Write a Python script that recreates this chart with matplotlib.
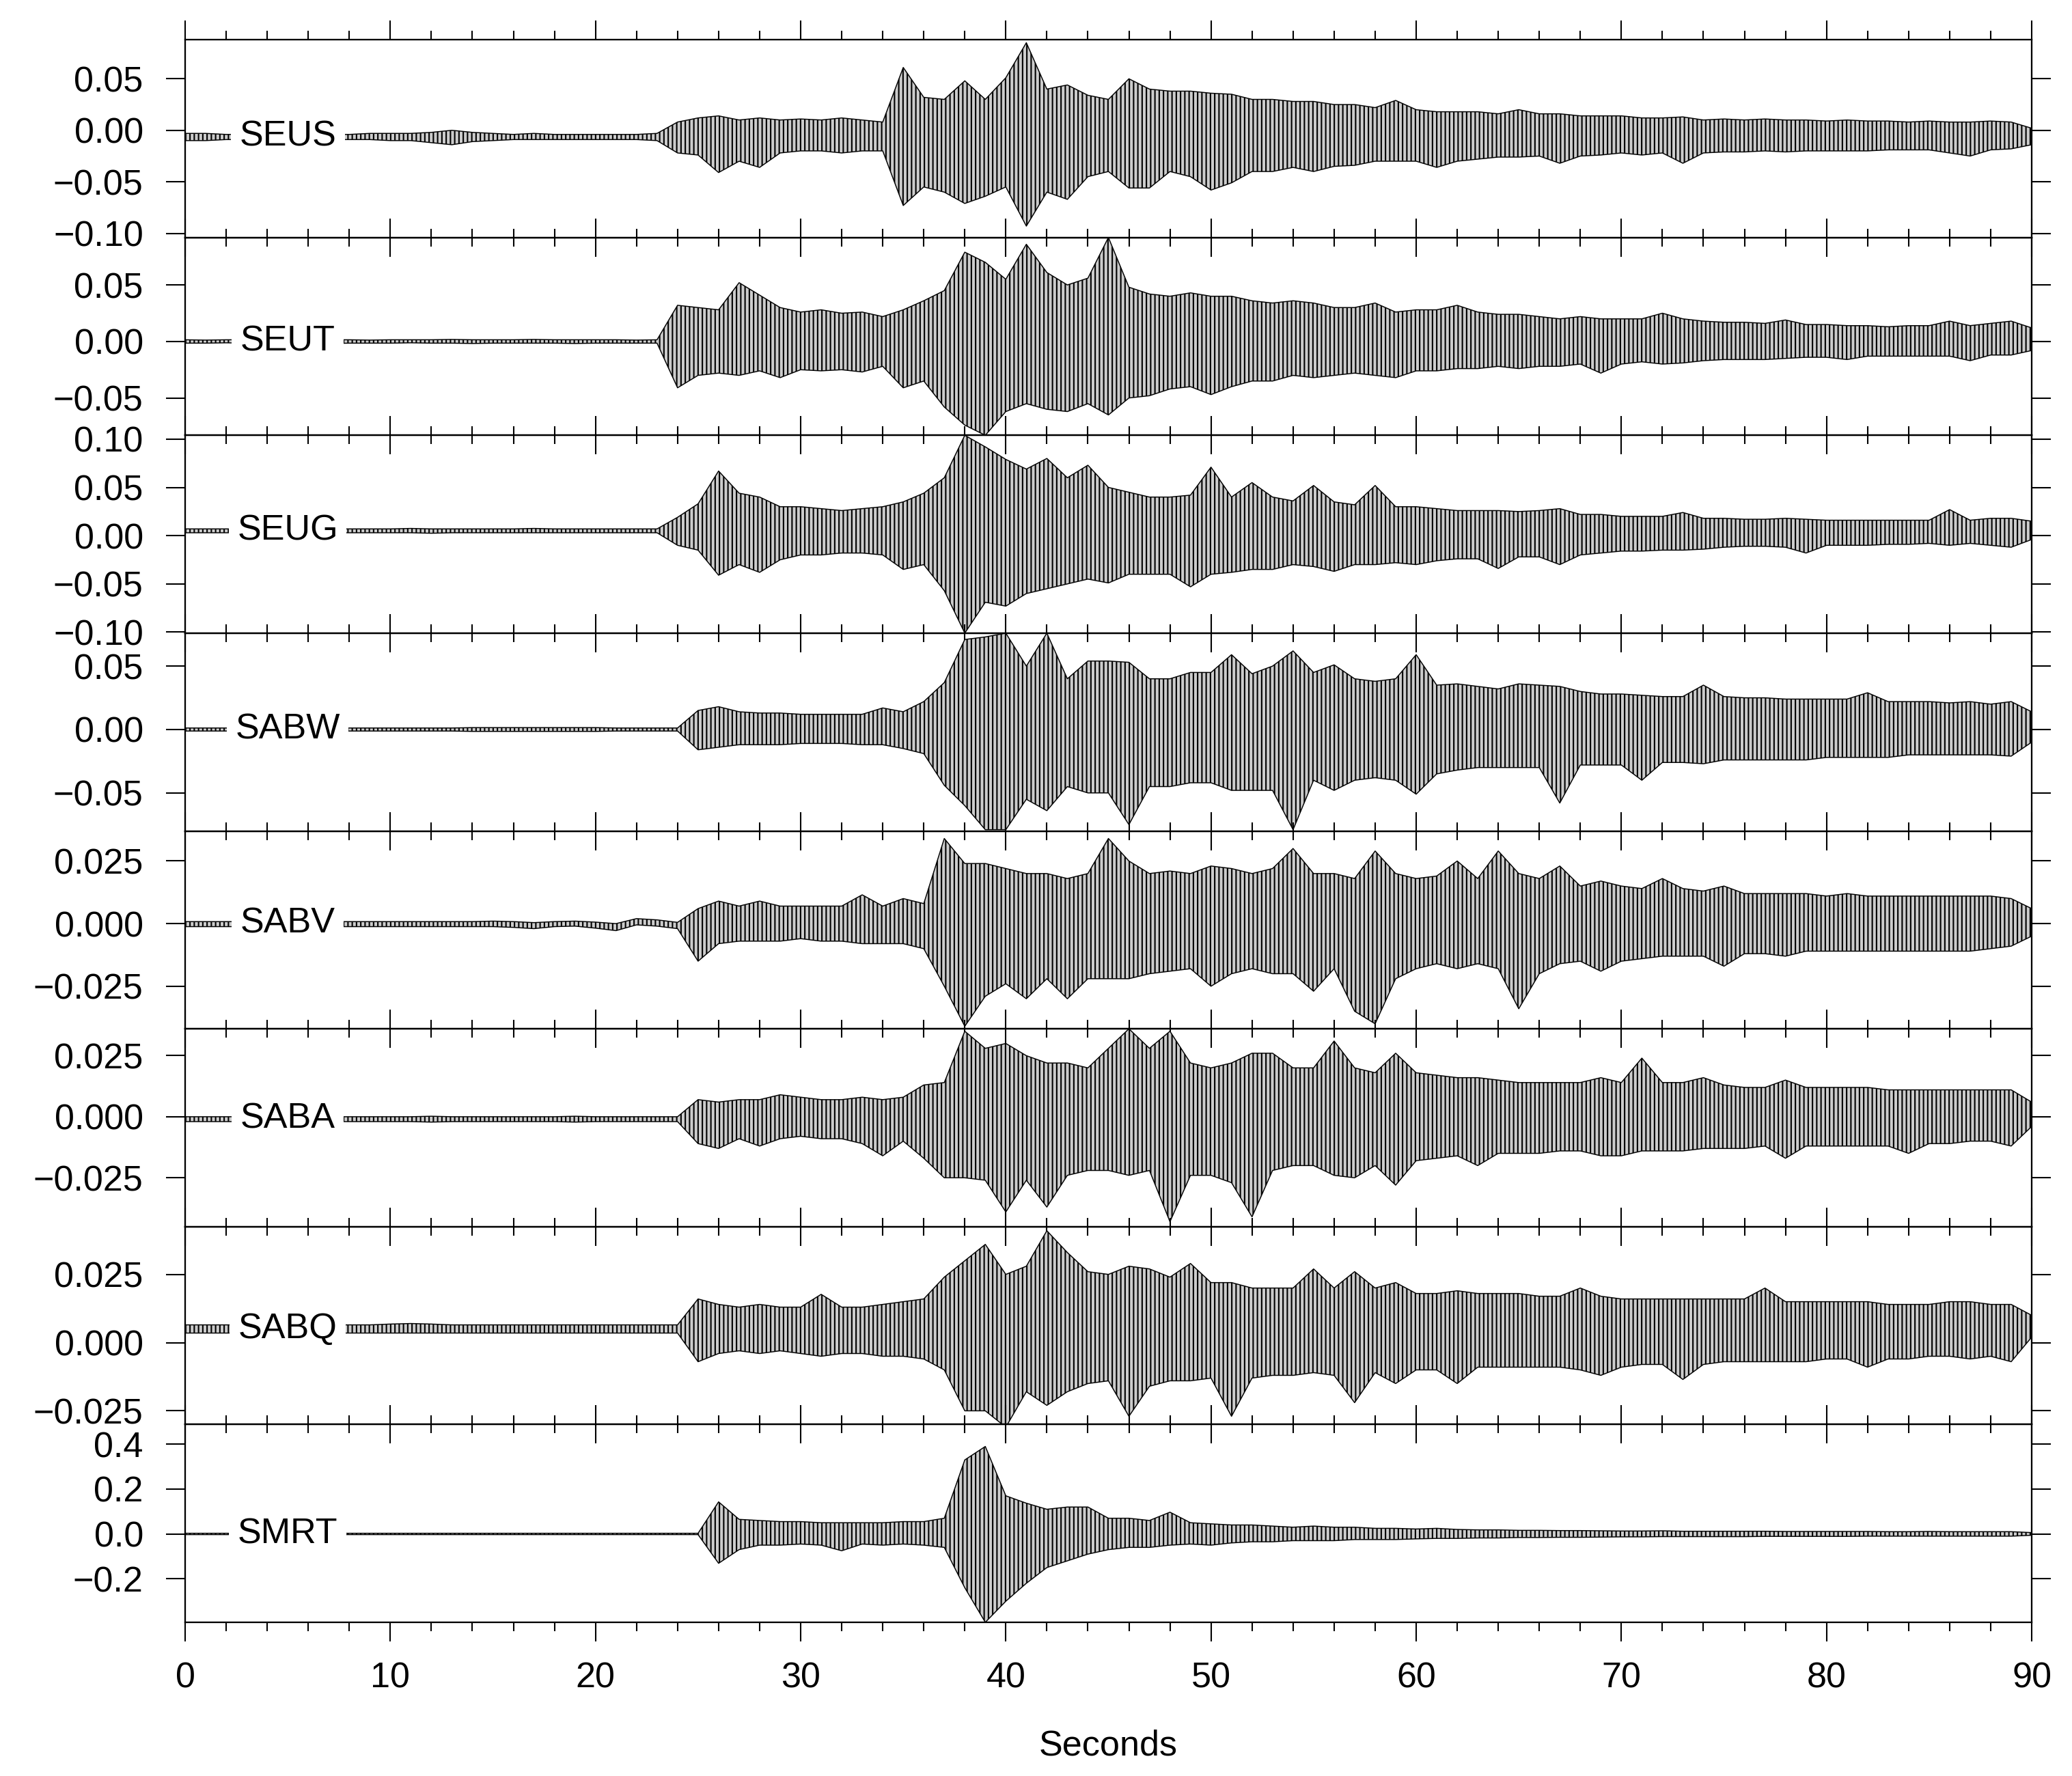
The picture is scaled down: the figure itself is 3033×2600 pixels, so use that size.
import numpy as np
import matplotlib.pyplot as plt
from matplotlib.ticker import MultipleLocator

plt.rcParams['font.family'] = ['Liberation Sans', 'DejaVu Sans']
plt.rcParams['hatch.linewidth'] = 0.5

# one value per second, 0..90 s: max and min of each trace inside that second
seconds = np.arange(0, 91)

stations = ["SEUS", "SEUT", "SEUG", "SABW", "SABV", "SABA", "SABQ", "SMRT"]
label_level = [-0.006, 0.0, 0.005, 0.0, 0.0, -0.001, 0.005, 0.0]

seus_hi = [-0.003, -0.003, -0.004, -0.004, -0.004, -0.004, -0.004, -0.004, -0.004, -0.003,
           -0.003, -0.003, -0.002, 0.000, -0.002, -0.003, -0.004, -0.003, -0.004, -0.004,
           -0.004, -0.004, -0.004, -0.003,
           0.008, 0.012, 0.014, 0.010, 0.012, 0.010, 0.011, 0.010, 0.012, 0.010, 0.008,
           0.061, 0.032, 0.030, 0.048, 0.030, 0.051, 0.085, 0.040, 0.044, 0.034, 0.030,
           0.050, 0.040, 0.038, 0.038, 0.036, 0.035, 0.030, 0.030, 0.028, 0.028, 0.025,
           0.025, 0.022, 0.029, 0.020, 0.018, 0.018, 0.018, 0.016, 0.020, 0.016, 0.016,
           0.014, 0.014, 0.014, 0.012, 0.012, 0.013, 0.010, 0.011, 0.010, 0.011, 0.010,
           0.010, 0.009, 0.010, 0.009, 0.009, 0.008, 0.009, 0.008, 0.008, 0.009, 0.008, 0.002]
seus_lo = [-0.010, -0.010, -0.009, -0.009, -0.009, -0.009, -0.009, -0.009, -0.009, -0.009,
           -0.010, -0.010, -0.012, -0.014, -0.011, -0.010, -0.009, -0.009, -0.009, -0.009,
           -0.009, -0.009, -0.009, -0.010,
           -0.022, -0.024, -0.041, -0.030, -0.036, -0.022, -0.020, -0.020, -0.022, -0.020, -0.020,
           -0.073, -0.055, -0.060, -0.071, -0.064, -0.055, -0.093, -0.060, -0.067, -0.045, -0.040,
           -0.056, -0.056, -0.040, -0.045, -0.058, -0.051, -0.040, -0.040, -0.036, -0.040, -0.035,
           -0.034, -0.030, -0.030, -0.030, -0.036, -0.030, -0.028, -0.026, -0.026, -0.025, -0.032,
           -0.025, -0.024, -0.022, -0.024, -0.022, -0.032, -0.022, -0.021, -0.021, -0.020, -0.021,
           -0.020, -0.020, -0.020, -0.020, -0.019, -0.019, -0.019, -0.022, -0.025, -0.019, -0.018, -0.014]

seut_hi = [0.0015, 0.0012, 0.0015, 0.0015, 0.0015, 0.0015, 0.0015, 0.0015, 0.0015, 0.0012,
           0.0015, 0.0015, 0.0015, 0.0018, 0.0015, 0.0015, 0.0015, 0.0018, 0.0015, 0.0015,
           0.0015, 0.0015, 0.0012, 0.0015,
           0.032, 0.030, 0.028, 0.052, 0.041, 0.030, 0.026, 0.028, 0.025, 0.026, 0.022,
           0.028, 0.036, 0.045, 0.079, 0.070, 0.055, 0.086, 0.061, 0.050, 0.056, 0.092,
           0.048, 0.042, 0.040, 0.043, 0.040, 0.040, 0.036, 0.034, 0.036, 0.034, 0.030,
           0.030, 0.034, 0.026, 0.028, 0.028, 0.032, 0.026, 0.024, 0.024, 0.022, 0.020,
           0.022, 0.020, 0.020, 0.020, 0.025, 0.020, 0.018, 0.017, 0.017, 0.016, 0.019,
           0.015, 0.015, 0.014, 0.014, 0.013, 0.014, 0.014, 0.018, 0.014, 0.016, 0.018, 0.012]
seut_lo = [-0.0015, -0.0015, -0.0012, -0.0015, -0.0015, -0.0015, -0.0015, -0.0018, -0.0015, -0.0015,
           -0.0015, -0.0012, -0.0015, -0.0015, -0.0018, -0.0015, -0.0015, -0.0015, -0.0015, -0.0018,
           -0.0015, -0.0015, -0.0015, -0.0015,
           -0.041, -0.030, -0.028, -0.030, -0.026, -0.032, -0.025, -0.026, -0.025, -0.027, -0.022,
           -0.041, -0.035, -0.058, -0.074, -0.083, -0.062, -0.055, -0.060, -0.062, -0.055, -0.065,
           -0.050, -0.048, -0.042, -0.040, -0.047, -0.040, -0.035, -0.035, -0.030, -0.032, -0.030,
           -0.028, -0.030, -0.032, -0.026, -0.026, -0.024, -0.024, -0.022, -0.024, -0.022, -0.022,
           -0.020, -0.028, -0.020, -0.018, -0.020, -0.019, -0.017, -0.016, -0.016, -0.016, -0.015,
           -0.014, -0.014, -0.016, -0.013, -0.013, -0.013, -0.013, -0.013, -0.017, -0.012, -0.012, -0.008]

seug_hi = [0.007, 0.007, 0.007, 0.007, 0.007, 0.007, 0.007, 0.007, 0.007, 0.007,
           0.007, 0.0075, 0.007, 0.007, 0.007, 0.007, 0.007, 0.0075, 0.007, 0.007,
           0.007, 0.007, 0.007, 0.007,
           0.019, 0.033, 0.067, 0.044, 0.040, 0.030, 0.030, 0.028, 0.026, 0.028, 0.030,
           0.035, 0.044, 0.060, 0.104, 0.092, 0.079, 0.069, 0.080, 0.060, 0.073, 0.050,
           0.045, 0.040, 0.040, 0.042, 0.071, 0.040, 0.055, 0.040, 0.036, 0.052, 0.035,
           0.032, 0.052, 0.030, 0.030, 0.028, 0.026, 0.026, 0.026, 0.025, 0.026, 0.028,
           0.022, 0.022, 0.020, 0.020, 0.020, 0.024, 0.018, 0.018, 0.017, 0.017, 0.018,
           0.017, 0.016, 0.016, 0.016, 0.016, 0.016, 0.016, 0.027, 0.016, 0.018, 0.018, 0.015]
seug_lo = [0.003, 0.003, 0.003, 0.003, 0.003, 0.003, 0.003, 0.003, 0.003, 0.003,
           0.003, 0.003, 0.0025, 0.003, 0.003, 0.003, 0.003, 0.003, 0.003, 0.003,
           0.003, 0.003, 0.003, 0.003,
           -0.010, -0.015, -0.041, -0.030, -0.038, -0.025, -0.020, -0.020, -0.018, -0.018, -0.020,
           -0.035, -0.030, -0.057, -0.101, -0.069, -0.073, -0.060, -0.055, -0.050, -0.045, -0.049,
           -0.040, -0.040, -0.040, -0.053, -0.040, -0.038, -0.035, -0.035, -0.030, -0.032, -0.037,
           -0.030, -0.030, -0.028, -0.030, -0.026, -0.024, -0.024, -0.034, -0.022, -0.022, -0.030,
           -0.020, -0.018, -0.016, -0.016, -0.015, -0.015, -0.014, -0.012, -0.011, -0.011, -0.012,
           -0.018, -0.010, -0.010, -0.010, -0.009, -0.009, -0.008, -0.010, -0.008, -0.010, -0.012, -0.004]

sabw_hi = [0.0012, 0.0012, 0.0012, 0.0012, 0.0012, 0.0012, 0.0012, 0.0012, 0.0012, 0.0012,
           0.0012, 0.0012, 0.0012, 0.0012, 0.0015, 0.0015, 0.0015, 0.0015, 0.0015, 0.0015,
           0.0015, 0.0012, 0.0012, 0.0012, 0.0012,
           0.015, 0.018, 0.014, 0.013, 0.013, 0.012, 0.012, 0.012, 0.012, 0.017,
           0.014, 0.022, 0.037, 0.071, 0.073, 0.076, 0.050, 0.076, 0.040, 0.054, 0.054,
           0.053, 0.040, 0.040, 0.045, 0.045, 0.059, 0.044, 0.050, 0.062, 0.045, 0.051,
           0.040, 0.038, 0.040, 0.059, 0.035, 0.036, 0.034, 0.032, 0.036, 0.035, 0.034,
           0.030, 0.028, 0.028, 0.027, 0.026, 0.026, 0.035, 0.026, 0.025, 0.025, 0.024,
           0.024, 0.024, 0.024, 0.029, 0.022, 0.022, 0.022, 0.021, 0.022, 0.020, 0.022, 0.014]
sabw_lo = [-0.0012, -0.0012, -0.0012, -0.0012, -0.0012, -0.0012, -0.0012, -0.0012, -0.0012, -0.0012,
           -0.0012, -0.0012, -0.0012, -0.0012, -0.0015, -0.0015, -0.0015, -0.0015, -0.0015, -0.0015,
           -0.0015, -0.0012, -0.0012, -0.0012, -0.0012,
           -0.016, -0.014, -0.012, -0.012, -0.012, -0.011, -0.011, -0.011, -0.012, -0.012,
           -0.015, -0.019, -0.044, -0.060, -0.079, -0.079, -0.055, -0.064, -0.045, -0.050, -0.050,
           -0.075, -0.045, -0.045, -0.042, -0.042, -0.048, -0.048, -0.048, -0.079, -0.040, -0.048,
           -0.040, -0.038, -0.040, -0.051, -0.035, -0.032, -0.030, -0.030, -0.030, -0.030, -0.058,
           -0.028, -0.028, -0.028, -0.040, -0.026, -0.026, -0.027, -0.024, -0.024, -0.024, -0.024,
           -0.024, -0.022, -0.022, -0.022, -0.022, -0.020, -0.020, -0.020, -0.020, -0.020, -0.021, -0.010]

sabv_hi = [0.0008, 0.0008, 0.0008, 0.0008, 0.0008, 0.0008, 0.0008, 0.0008, 0.0008, 0.0008,
           0.0008, 0.0008, 0.0008, 0.0008, 0.0008, 0.0010, 0.0008, 0.0004, 0.0008, 0.0010,
           0.0006, 0.0000, 0.0020, 0.0015, 0.0005,
           0.006, 0.009, 0.007, 0.009, 0.007, 0.007, 0.007, 0.007, 0.0115, 0.007,
           0.010, 0.008, 0.034, 0.024, 0.024, 0.022, 0.020, 0.020, 0.018, 0.020, 0.034,
           0.025, 0.020, 0.021, 0.020, 0.023, 0.022, 0.020, 0.022, 0.030, 0.020, 0.020,
           0.018, 0.029, 0.020, 0.018, 0.019, 0.025, 0.018, 0.029, 0.020, 0.018, 0.023,
           0.015, 0.017, 0.015, 0.014, 0.018, 0.014, 0.013, 0.015, 0.012, 0.012, 0.012,
           0.012, 0.011, 0.012, 0.011, 0.011, 0.011, 0.011, 0.011, 0.011, 0.011, 0.010, 0.006]
sabv_lo = [-0.0012, -0.0012, -0.0012, -0.0012, -0.0012, -0.0012, -0.0012, -0.0012, -0.0012, -0.0012,
           -0.0012, -0.0012, -0.0012, -0.0012, -0.0012, -0.0012, -0.0015, -0.0020, -0.0012, -0.0010,
           -0.0018, -0.0028, -0.0005, -0.0010, -0.0020,
           -0.015, -0.008, -0.007, -0.007, -0.007, -0.006, -0.007, -0.007, -0.008, -0.008,
           -0.008, -0.010, -0.025, -0.041, -0.029, -0.024, -0.030, -0.022, -0.030, -0.022, -0.022,
           -0.022, -0.020, -0.019, -0.018, -0.025, -0.020, -0.018, -0.020, -0.020, -0.027, -0.018,
           -0.035, -0.040, -0.022, -0.018, -0.016, -0.018, -0.016, -0.018, -0.034, -0.020, -0.016,
           -0.015, -0.019, -0.015, -0.014, -0.013, -0.013, -0.013, -0.017, -0.012, -0.012, -0.013,
           -0.011, -0.011, -0.011, -0.011, -0.011, -0.011, -0.011, -0.011, -0.011, -0.010, -0.009, -0.005]

saba_hi = [0.0000, 0.0000, 0.0000, 0.0000, 0.0000, 0.0000, 0.0000, 0.0000, 0.0000, 0.0000,
           0.0000, 0.0000, 0.0002, 0.0000, 0.0000, 0.0000, 0.0000, 0.0000, 0.0000, 0.0002,
           0.0000, 0.0000, 0.0000, 0.0000, 0.0000,
           0.007, 0.006, 0.007, 0.007, 0.009, 0.008, 0.007, 0.007, 0.008, 0.007,
           0.008, 0.013, 0.014, 0.035, 0.028, 0.030, 0.025, 0.022, 0.022, 0.020, 0.028,
           0.036, 0.028, 0.035, 0.022, 0.020, 0.022, 0.026, 0.026, 0.020, 0.020, 0.031,
           0.020, 0.018, 0.026, 0.018, 0.017, 0.016, 0.016, 0.015, 0.014, 0.014, 0.014,
           0.014, 0.016, 0.014, 0.024, 0.014, 0.014, 0.016, 0.013, 0.012, 0.012, 0.015,
           0.012, 0.012, 0.012, 0.012, 0.011, 0.011, 0.011, 0.011, 0.011, 0.011, 0.011, 0.006]
saba_lo = [-0.0020, -0.0020, -0.0020, -0.0020, -0.0020, -0.0020, -0.0020, -0.0020, -0.0020, -0.0020,
           -0.0020, -0.0020, -0.0022, -0.0020, -0.0020, -0.0020, -0.0020, -0.0020, -0.0020, -0.0022,
           -0.0020, -0.0020, -0.0020, -0.0020, -0.0020,
           -0.011, -0.013, -0.009, -0.012, -0.009, -0.008, -0.009, -0.009, -0.011, -0.016,
           -0.010, -0.017, -0.025, -0.025, -0.026, -0.039, -0.026, -0.037, -0.024, -0.022, -0.022,
           -0.024, -0.022, -0.043, -0.024, -0.024, -0.027, -0.041, -0.022, -0.020, -0.020, -0.024,
           -0.025, -0.020, -0.028, -0.018, -0.017, -0.016, -0.020, -0.015, -0.015, -0.015, -0.014,
           -0.014, -0.016, -0.016, -0.014, -0.014, -0.014, -0.013, -0.013, -0.013, -0.012, -0.017,
           -0.012, -0.012, -0.012, -0.012, -0.012, -0.015, -0.011, -0.011, -0.010, -0.010, -0.012, -0.004]

sabq_hi = [0.0065, 0.0065, 0.0065, 0.0065, 0.0065, 0.0065, 0.0065, 0.0065, 0.0065, 0.0065,
           0.0068, 0.0070, 0.0068, 0.0065, 0.0065, 0.0065, 0.0065, 0.0065, 0.0065, 0.0065,
           0.0065, 0.0065, 0.0065, 0.0065, 0.0065,
           0.016, 0.014, 0.013, 0.014, 0.013, 0.013, 0.0177, 0.013, 0.013, 0.014,
           0.015, 0.016, 0.024, 0.030, 0.036, 0.025, 0.028, 0.041, 0.033, 0.026, 0.025,
           0.028, 0.027, 0.024, 0.029, 0.022, 0.022, 0.020, 0.020, 0.020, 0.027, 0.020,
           0.026, 0.020, 0.022, 0.018, 0.018, 0.019, 0.018, 0.018, 0.018, 0.017, 0.017,
           0.020, 0.017, 0.016, 0.016, 0.016, 0.016, 0.016, 0.016, 0.016, 0.020, 0.015,
           0.015, 0.015, 0.015, 0.015, 0.014, 0.014, 0.014, 0.015, 0.015, 0.014, 0.014, 0.010]
sabq_lo = [0.0035, 0.0035, 0.0035, 0.0035, 0.0035, 0.0035, 0.0035, 0.0035, 0.0035, 0.0035,
           0.0035, 0.0035, 0.0035, 0.0035, 0.0035, 0.0035, 0.0035, 0.0035, 0.0035, 0.0035,
           0.0035, 0.0035, 0.0035, 0.0035, 0.0035,
           -0.007, -0.004, -0.003, -0.004, -0.003, -0.004, -0.005, -0.004, -0.004, -0.005,
           -0.005, -0.006, -0.010, -0.025, -0.025, -0.031, -0.018, -0.023, -0.018, -0.015, -0.014,
           -0.027, -0.016, -0.014, -0.014, -0.013, -0.027, -0.013, -0.012, -0.012, -0.011, -0.012,
           -0.022, -0.011, -0.015, -0.010, -0.010, -0.015, -0.009, -0.009, -0.009, -0.009, -0.009,
           -0.010, -0.012, -0.009, -0.008, -0.008, -0.0135, -0.008, -0.007, -0.007, -0.007, -0.007,
           -0.007, -0.006, -0.006, -0.009, -0.006, -0.006, -0.005, -0.005, -0.006, -0.005, -0.007, 0.002]

smrt_hi = [0.003, 0.003, 0.003, 0.003, 0.003, 0.003, 0.003, 0.003, 0.003, 0.003,
           0.003, 0.003, 0.003, 0.003, 0.003, 0.003, 0.003, 0.003, 0.003, 0.003,
           0.003, 0.003, 0.003, 0.003, 0.003, 0.003,
           0.143, 0.065, 0.060, 0.055, 0.055, 0.050, 0.050, 0.050, 0.050, 0.055,
           0.055, 0.070, 0.330, 0.390, 0.170, 0.137, 0.110, 0.120, 0.120, 0.070,
           0.070, 0.060, 0.097, 0.050, 0.045, 0.040, 0.040, 0.035, 0.030, 0.035,
           0.030, 0.030, 0.025, 0.025, 0.022, 0.025, 0.020, 0.018, 0.018, 0.016,
           0.016, 0.015, 0.015, 0.014, 0.013, 0.013, 0.014, 0.012, 0.012, 0.012,
           0.012, 0.012, 0.011, 0.011, 0.011, 0.011, 0.011, 0.010, 0.010, 0.011,
           0.010, 0.010, 0.010, 0.010, 0.006]
smrt_lo = [-0.003, -0.003, -0.003, -0.003, -0.003, -0.003, -0.003, -0.003, -0.003, -0.003,
           -0.003, -0.003, -0.003, -0.003, -0.003, -0.003, -0.003, -0.003, -0.003, -0.003,
           -0.003, -0.003, -0.003, -0.003, -0.003, -0.003,
           -0.131, -0.070, -0.050, -0.050, -0.045, -0.050, -0.075, -0.045, -0.050, -0.045,
           -0.050, -0.060, -0.240, -0.394, -0.300, -0.220, -0.150, -0.120, -0.090, -0.070,
           -0.060, -0.060, -0.050, -0.045, -0.050, -0.040, -0.035, -0.035, -0.030, -0.030,
           -0.030, -0.025, -0.025, -0.025, -0.022, -0.020, -0.020, -0.018, -0.018, -0.016,
           -0.016, -0.015, -0.015, -0.014, -0.013, -0.013, -0.012, -0.012, -0.012, -0.012,
           -0.012, -0.011, -0.011, -0.011, -0.011, -0.011, -0.010, -0.010, -0.010, -0.010,
           -0.010, -0.010, -0.010, -0.010, -0.006]

highs = [seus_hi, seut_hi, seug_hi, sabw_hi, sabv_hi, saba_hi, sabq_hi, smrt_hi]
lows = [seus_lo, seut_lo, seug_lo, sabw_lo, sabv_lo, saba_lo, sabq_lo, smrt_lo]

ylims = [(-0.104, 0.088), (-0.083, 0.092), (-0.101, 0.104), (-0.080, 0.076),
         (-0.042, 0.037), (-0.045, 0.036), (-0.030, 0.0425), (-0.394, 0.488)]
yticks = [[-0.10, -0.05, 0.00, 0.05], [-0.05, 0.00, 0.05], [-0.10, -0.05, 0.00, 0.05, 0.10],
          [-0.05, 0.00, 0.05], [-0.025, 0.000, 0.025], [-0.025, 0.000, 0.025],
          [-0.025, 0.000, 0.025], [-0.2, 0.0, 0.2, 0.4]]
ydecimals = [2, 2, 2, 2, 3, 3, 3, 1]

for h, l in zip(highs, lows):
    assert len(h) == len(seconds) and len(l) == len(seconds), (len(h), len(l))

fs = 12.5
fig, axes = plt.subplots(8, 1, sharex=True, figsize=(3033 / 300, 2600 / 300), dpi=300)
fig.subplots_adjust(left=271 / 3033, right=2974 / 3033, top=1 - 58 / 2600,
                    bottom=1 - 2375 / 2600, hspace=0)

for i, ax in enumerate(axes):
    ax.patch.set_visible(False)
    # envelope of the trace, hatched with thin vertical strokes
    ax.fill_between(seconds, lows[i], highs[i], facecolor='0.8', edgecolor='black',
                    hatch='|' * 8, lw=0)
    ax.plot(seconds, highs[i], color='black', lw=0.35)
    ax.plot(seconds, lows[i], color='black', lw=0.35)
    ax.text(5, label_level[i], stations[i], ha='center', va='center', fontsize=fs,
            bbox=dict(fc='white', ec='none', pad=3), zorder=5)

    ax.set_xlim(0, 90)
    ax.set_ylim(*ylims[i])
    ax.set_yticks(yticks[i])
    ax.set_yticklabels([f"{v:.{ydecimals[i]}f}".replace('-', '\u2212') for v in yticks[i]])
    ax.xaxis.set_major_locator(MultipleLocator(10))
    ax.xaxis.set_minor_locator(MultipleLocator(2))
    ax.tick_params(axis='x', which='major', direction='out', length=6.7, width=0.5,
                   top=True, bottom=True, labelsize=fs, pad=7)
    ax.tick_params(axis='x', which='minor', direction='out', length=3.2, width=0.5,
                   top=True, bottom=True)
    ax.tick_params(axis='y', direction='out', length=6.7, width=0.5, left=True, right=True,
                   labelsize=fs, pad=8)
    for sp in ax.spines.values():
        sp.set_linewidth(0.55)

axes[-1].set_xlabel("Seconds", fontsize=fs, labelpad=12)

fig.savefig("out.png", dpi=300)
